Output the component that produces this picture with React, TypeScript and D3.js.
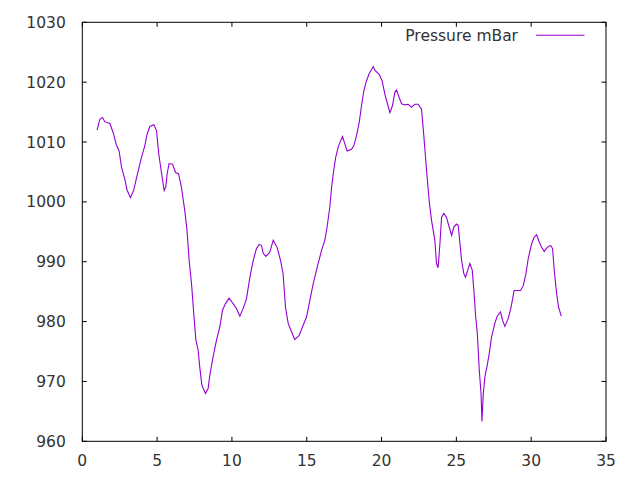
import React, { useEffect, useRef } from 'react';
import * as d3 from 'd3';

// day of month (x) and pressure readings (y)
const days = [
  0.99, 1.17, 1.35, 1.5, 1.84, 2.06, 2.28, 2.46, 2.62, 2.84, 3.0, 3.22, 3.44, 3.66, 3.95,
  4.18, 4.33, 4.51, 4.78, 4.96, 5.11, 5.29, 5.47, 5.58, 5.67, 5.8, 6.03, 6.23, 6.43, 6.63,
  6.85, 7.0, 7.14, 7.3, 7.45, 7.59, 7.74, 7.85, 7.99, 8.23, 8.41, 8.52, 8.74, 8.97, 9.19,
  9.37, 9.57, 9.81, 10.08, 10.3, 10.53, 10.75, 10.97, 11.2, 11.42, 11.64, 11.82, 11.98, 12.09,
  12.27, 12.53, 12.76, 13.02, 13.25, 13.42, 13.58, 13.76, 13.98, 14.2, 14.49, 14.76, 14.99,
  15.21, 15.43, 15.7, 15.99, 16.21, 16.36, 16.54, 16.66, 16.77, 16.93, 17.1, 17.21, 17.39,
  17.55, 17.7, 17.99, 18.15, 18.33, 18.51, 18.66, 18.82, 18.99, 19.17, 19.44, 19.55, 19.84,
  20.04, 20.22, 20.37, 20.56, 20.73, 20.89, 21.0, 21.18, 21.34, 21.56, 21.78, 22.0, 22.23,
  22.45, 22.67, 22.78, 22.89, 23.01, 23.18, 23.34, 23.56, 23.67, 23.78, 23.9, 24.01, 24.16,
  24.34, 24.52, 24.68, 24.83, 25.01, 25.12, 25.23, 25.35, 25.5, 25.61, 25.79, 25.9, 26.06,
  26.17, 26.29, 26.4, 26.53, 26.65, 26.71, 26.8, 26.91, 27.06, 27.2, 27.35, 27.57, 27.73,
  27.95, 28.09, 28.24, 28.46, 28.64, 28.86, 29.06, 29.29, 29.47, 29.65, 29.8, 30.03, 30.2,
  30.36, 30.54, 30.7, 30.87, 31.07, 31.3, 31.43, 31.54, 31.7, 31.83, 32.01,
];

const pressure = [
  1012.0, 1013.8, 1014.1, 1013.4, 1013.1, 1011.6, 1009.5, 1008.5, 1005.8, 1003.8, 1001.9, 1000.7, 1002.0, 1004.4, 1007.4,
  1009.4, 1011.3, 1012.6, 1012.9, 1011.9, 1008.0, 1004.9, 1001.9, 1002.5, 1004.7, 1006.4, 1006.3, 1004.9, 1004.7, 1002.4,
  998.5, 995.2, 990.2, 986.3, 981.3, 976.9, 975.3, 972.4, 969.4, 968.0, 968.8, 971.0, 974.1, 976.9, 979.1,
  981.9, 983.0, 983.9, 983.0, 982.2, 980.9, 982.2, 983.8, 987.4, 990.2, 992.2, 992.9, 992.7, 991.4,
  990.9, 991.6, 993.6, 992.4, 990.2, 988.0, 982.4, 979.7, 978.3, 977.0, 977.7, 979.4, 980.8,
  983.6, 986.3, 989.1, 991.9, 993.6, 995.8, 999.1, 1002.4, 1004.7, 1007.4, 1009.1, 1009.9, 1010.9,
  1009.7, 1008.5, 1008.8, 1009.4, 1011.1, 1013.3, 1016.1, 1018.6, 1020.2, 1021.4, 1022.6, 1022.0, 1021.3,
  1020.2, 1018.0, 1016.6, 1014.9, 1016.1, 1018.3, 1018.7, 1017.4, 1016.4, 1016.2, 1016.3, 1015.8, 1016.3,
  1016.3, 1015.5, 1012.4, 1009.0, 1005.2, 1000.2, 996.9, 993.6, 989.7, 989.0, 993.0, 997.4, 998.1,
  997.4, 995.8, 994.4, 995.8, 996.3, 996.1, 993.3, 990.2, 988.0, 987.4, 988.8, 989.7, 988.6,
  985.2, 980.8, 978.0, 971.9, 968.0, 963.3, 968.0, 970.8, 972.7, 974.7, 977.4, 979.7, 980.9,
  981.6, 980.2, 979.2, 980.5, 982.2, 985.2, 985.2, 985.2, 986.0, 988.0, 990.5, 993.0, 994.1,
  994.5, 993.3, 992.4, 991.7, 992.4, 992.7, 992.2, 988.6, 984.7, 982.4, 980.9,
];

const xTicks = [0, 5, 10, 15, 20, 25, 30, 35];
const yTicks = [960, 970, 980, 990, 1000, 1010, 1020, 1030];
const seriesName = 'Pressure mBar';

const width = 640;
const height = 480;
const margin = { top: 22.3, right: 34, bottom: 38.7, left: 82.3 };
const font = '"DejaVu Sans", sans-serif';

const App: React.FC = () => {
  const svgRef = useRef<SVGSVGElement>(null);

  useEffect(() => {
    const svg = d3.select(svgRef.current);
    svg.selectAll('*').remove();

    const x = d3.scaleLinear().domain([0, 35]).range([margin.left, width - margin.right]);
    const y = d3.scaleLinear().domain([960, 1030]).range([height - margin.bottom, margin.top]);
    const tick = 4.5;

    svg.append('rect').attr('width', width).attr('height', height).attr('fill', '#fff');

    // ticks on all four sides, pointing inward
    const g = svg.append('g').attr('stroke', '#000').attr('stroke-width', 1);
    xTicks.forEach(t => {
      g.append('line').attr('x1', x(t)).attr('x2', x(t))
        .attr('y1', y(960)).attr('y2', y(960) - tick);
      g.append('line').attr('x1', x(t)).attr('x2', x(t))
        .attr('y1', y(1030)).attr('y2', y(1030) + tick);
    });
    yTicks.forEach(t => {
      g.append('line').attr('x1', x(0)).attr('x2', x(0) + tick)
        .attr('y1', y(t)).attr('y2', y(t));
      g.append('line').attr('x1', x(35)).attr('x2', x(35) - tick)
        .attr('y1', y(t)).attr('y2', y(t));
    });

    svg.selectAll('.xlab')
      .data(xTicks)
      .enter()
      .append('text')
      .attr('x', d => x(d))
      .attr('y', y(960) + 25)
      .attr('text-anchor', 'middle')
      .style('font-family', font)
      .style('font-size', '15.5px')
      .style('fill', '#333')
      .text(d => d);

    svg.selectAll('.ylab')
      .data(yTicks)
      .enter()
      .append('text')
      .attr('x', x(0) - 16.5)
      .attr('y', d => y(d))
      .attr('dy', '0.36em')
      .attr('text-anchor', 'end')
      .style('font-family', font)
      .style('font-size', '15.5px')
      .style('fill', '#333')
      .text(d => d);

    const line = d3.line<number>()
      .x((_, i) => x(days[i]))
      .y(d => y(d))
      .curve(d3.curveLinear);

    svg.append('path')
      .datum(pressure)
      .attr('d', line)
      .attr('fill', 'none')
      .attr('stroke', '#9400d3')
      .attr('stroke-width', 1.1);

    // legend
    svg.append('text')
      .attr('x', 518)
      .attr('y', 35.3)
      .attr('dy', '0.36em')
      .attr('text-anchor', 'end')
      .style('font-family', font)
      .style('font-size', '15.5px')
      .style('fill', '#333')
      .text(seriesName);
    svg.append('line')
      .attr('x1', 536).attr('x2', 584.5)
      .attr('y1', 35.3).attr('y2', 35.3)
      .attr('stroke', '#9400d3')
      .attr('stroke-width', 1.1);

    svg.append('rect')
      .attr('x', x(0)).attr('y', y(1030))
      .attr('width', x(35) - x(0)).attr('height', y(960) - y(1030))
      .attr('fill', 'none')
      .attr('stroke', '#000')
      .attr('stroke-width', 1);
  }, []);

  return (
    <svg
      ref={svgRef}
      width={width}
      height={height}
      style={{ position: 'absolute', left: 0, top: 0, display: 'block' }}
    />
  );
};

export default App;
